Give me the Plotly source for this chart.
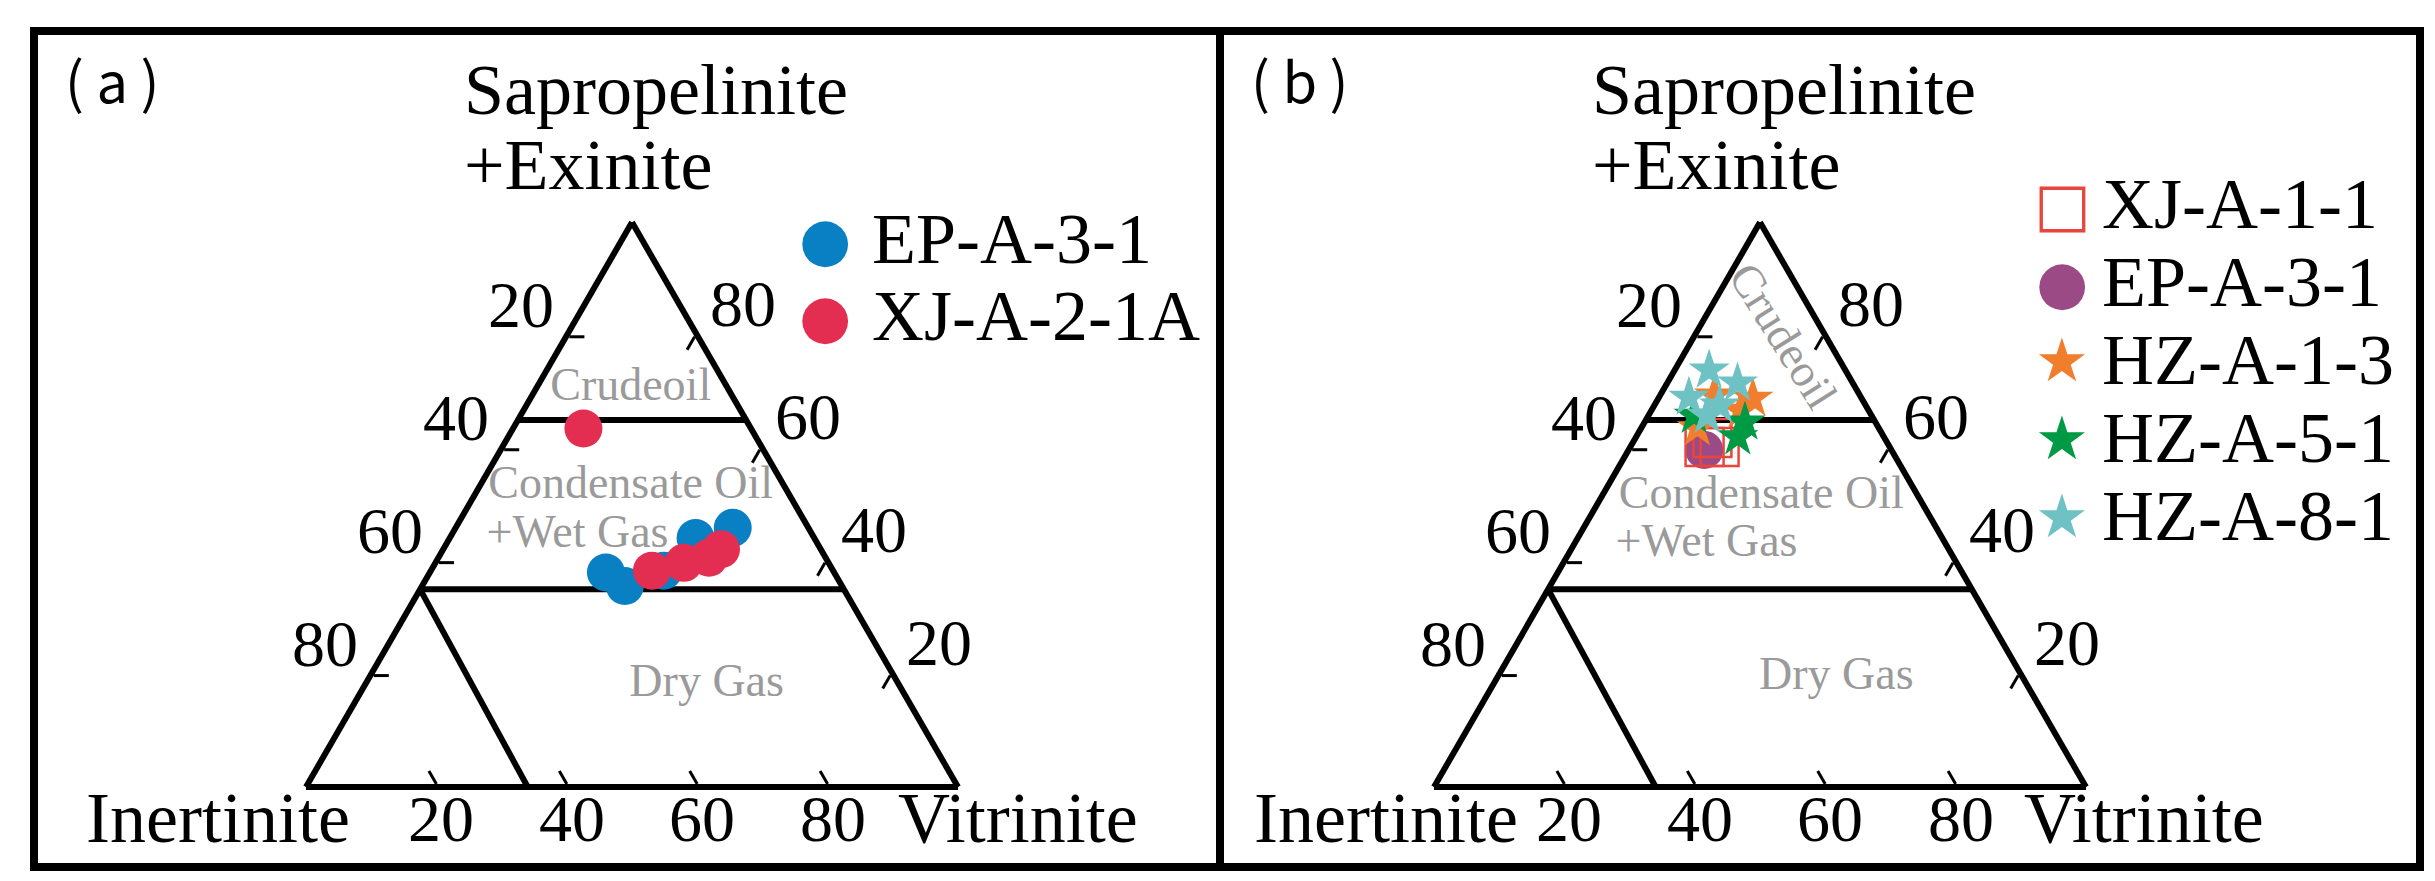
import plotly.graph_objects as go

W, H = 2435, 881

# ternary components: sap = Sapropelinite+Exinite (top), ine = Inertinite (left), vit = Vitrinite (right)
tick_vals = [20, 40, 60, 80]
tick_text = ["80", "60", "40", "20"]

# panel (a)
a_names = ["EP-A-3-1", "XJ-A-2-1A"]
a_colors = ["#0A80C4", "#E32E52"]
a_sap = [[38.0, 35.6, 38.3, 44.1, 45.9], [63.5, 38.3, 39.7, 40.6, 42.1]]
a_ine = [[35.0, 33.3, 26.0, 18.2, 11.6], [25.7, 27.8, 22.2, 17.9, 15.3]]
a_vit = [[27.0, 31.1, 35.7, 37.7, 42.5], [10.8, 33.9, 38.1, 41.5, 42.6]]

# panel (b)
b_names = ["XJ-A-1-1", "EP-A-3-1", "HZ-A-1-3", "HZ-A-5-1", "HZ-A-8-1"]
b_colors = ["#E8453C", "#9C4A86", "#F07E2C", "#009A44", "#6EC2C3"]
b_symbols = ["square-open", "circle", "star", "star", "star"]
b_sap = [[60.2, 60.2, 61.8], [59.7], [68.8, 69.4, 63.6, 66.7], [64.6, 65.8, 62.0],
         [73.8, 71.5, 69.0, 67.6, 65.8]]
b_ine = [[28.4, 26.1, 26.4], [28.7], [16.7, 22.3, 27.8, 19.6], [20.0, 27.2, 22.4],
         [20.9, 17.7, 26.4, 22.4, 25.2]]
b_vit = [[11.4, 13.7, 11.8], [11.6], [14.5, 8.3, 8.6, 13.7], [15.4, 7.0, 15.6],
         [5.3, 10.8, 4.6, 10.0, 9.0]]
b_draw_order = [1, 0, 2, 3, 4]

# zone boundaries
bound_sap = [[65, 65], [35, 35], [35, 0]]
bound_ine = [[35, 0], [65, 0], [65, 66]]
bound_vit = [[0, 35], [0, 65], [0, 34]]

# zone labels
a_zone_text = ["Crudeoil", "Condensate Oil", "+Wet Gas", "Dry Gas"]
a_zone_sap = [70.6, 53.2, 44.5, 18.1]
a_zone_ine = [14.9, 23.6, 36.1, 29.5]
a_zone_vit = [14.5, 23.2, 19.4, 52.4]
b_zone_text = ["Condensate Oil", "+Wet Gas", "Dry Gas"]
b_zone_sap = [51.4, 43.0, 19.4]
b_zone_ine = [24.1, 36.7, 28.6]
b_zone_vit = [24.5, 20.3, 52.0]

SERIF = "Liberation Serif"
GREY = "#9a9a9a"

# triangle placement (pixels)
apex_x = [624, 1752]
base_y = 779
tri_w = 652
tri_h = tri_w * 3 ** 0.5 / 2

fig = go.Figure()

for sub in ["ternary", "ternary2"]:
    for s, i, v in zip(bound_sap, bound_ine, bound_vit):
        fig.add_trace(go.Scatterternary(a=s, b=i, c=v, mode="lines", subplot=sub,
                                        line=dict(color="black", width=6), showlegend=False,
                                        hoverinfo="skip"))

fig.add_trace(go.Scatterternary(a=a_zone_sap, b=a_zone_ine, c=a_zone_vit, text=a_zone_text,
                                mode="text", subplot="ternary", showlegend=False,
                                textfont=dict(family=SERIF, size=46, color=GREY)))
fig.add_trace(go.Scatterternary(a=b_zone_sap, b=b_zone_ine, c=b_zone_vit, text=b_zone_text,
                                mode="text", subplot="ternary2", showlegend=False,
                                textfont=dict(family=SERIF, size=46, color=GREY)))

for k in range(len(a_names)):
    fig.add_trace(go.Scatterternary(a=a_sap[k], b=a_ine[k], c=a_vit[k], mode="markers",
                                    subplot="ternary", name=a_names[k], showlegend=False,
                                    marker=dict(color=a_colors[k], size=38, line=dict(width=0))))

for k in b_draw_order:
    sym = b_symbols[k]
    if sym == "square-open":
        mk = dict(symbol=sym, size=38, color=b_colors[k], line=dict(color=b_colors[k], width=2.5))
    elif sym == "star":
        mk = dict(symbol=sym, size=31, color=b_colors[k], line=dict(width=0))
    else:
        mk = dict(symbol=sym, size=38, color=b_colors[k], line=dict(width=0))
    fig.add_trace(go.Scatterternary(a=b_sap[k], b=b_ine[k], c=b_vit[k], mode="markers",
                                    subplot="ternary2", name=b_names[k], showlegend=False,
                                    marker=mk))


def tern_axis():
    return dict(tickmode="array", tickvals=tick_vals, ticktext=tick_text, ticks="inside",
                ticklen=15, tickwidth=2.5, tickcolor="black", linewidth=6, linecolor="black",
                showgrid=False, showticklabels=False, title=dict(text=""))


def tern(ax):
    return dict(sum=100, bgcolor="white",
                domain=dict(x=[(ax - tri_w / 2) / W, (ax + tri_w / 2) / W],
                            y=[(H - base_y) / H, (H - base_y + tri_h) / H]),
                aaxis=tern_axis(), baxis=tern_axis(), caxis=tern_axis())


def px(x):
    return x / W


def py(y):
    return (H - y) / H


ann = []


def text_ann(t, x, y, size, xanchor="center", color="black", family=SERIF, angle=0):
    ann.append(dict(text=t, x=px(x), y=py(y), xref="paper", yref="paper", showarrow=False,
                    xanchor=xanchor, yanchor="middle", textangle=angle,
                    font=dict(family=family, size=size, color=color)))


# tick labels along the three edges of each triangle
for ax in apex_x:
    x0 = ax - tri_w / 2
    for v, t in zip(tick_vals, tick_text):
        f = v / 100
        text_ann(t, x0 + f * tri_w / 2 - 46, base_y - f * tri_h - 31, 66)
        text_ann(t, x0 + tri_w - (1 - f) * tri_w / 2 + 46, base_y - (1 - f) * tri_h - 32, 66)
        text_ann(t, x0 + (1 - f) * tri_w + 5, 810, 66)

# corner titles and panel labels
for ax, bl_x, br_x, lab, lab_x in [(624, 210, 1010, "( a )", 104), (1752, 1378, 2136, "( b )", 1292)]:
    text_ann("Sapropelinite", ax - 170, 82, 72, "left")
    text_ann("+Exinite", ax - 170, 157, 72, "left")
    text_ann("Inertinite", bl_x, 810, 72)
    text_ann("Vitrinite", br_x, 810, 72)
    text_ann(lab, lab_x, 70, 56, family="Noto Sans CJK SC")

text_ann("Crudeoil", 1776, 328, 46, color=GREY, angle=58)

# legends
glyph = {"circle": "●", "star": "★", "square-open": "□"}
for k, nm in enumerate(a_names):
    y = 231 + 77 * k
    text_ann(glyph["circle"], 817, y, 60, color=a_colors[k], family="DejaVu Sans")
    text_ann(nm, 862, y, 72, "left")
for k, nm in enumerate(b_names):
    y = 196 + 78 * k
    text_ann(glyph[b_symbols[k]], 2054, y, 60, color=b_colors[k], family="DejaVu Sans")
    text_ann(nm, 2092, y, 72, "left")

# frames
shapes = [
    dict(type="rect", xref="paper", yref="paper", x0=px(26), x1=px(2412), y0=py(859), y1=py(23),
         line=dict(color="black", width=8)),
    dict(type="line", xref="paper", yref="paper", x0=px(1212), x1=px(1212), y0=py(859), y1=py(23),
         line=dict(color="black", width=8)),
]

fig.update_layout(
    width=W, height=H,
    margin=dict(l=0, r=0, t=0, b=0),
    paper_bgcolor="white",
    showlegend=False,
    ternary=tern(apex_x[0]),
    ternary2=tern(apex_x[1]),
    annotations=ann,
    shapes=shapes,
)

fig.write_html("out.html")
